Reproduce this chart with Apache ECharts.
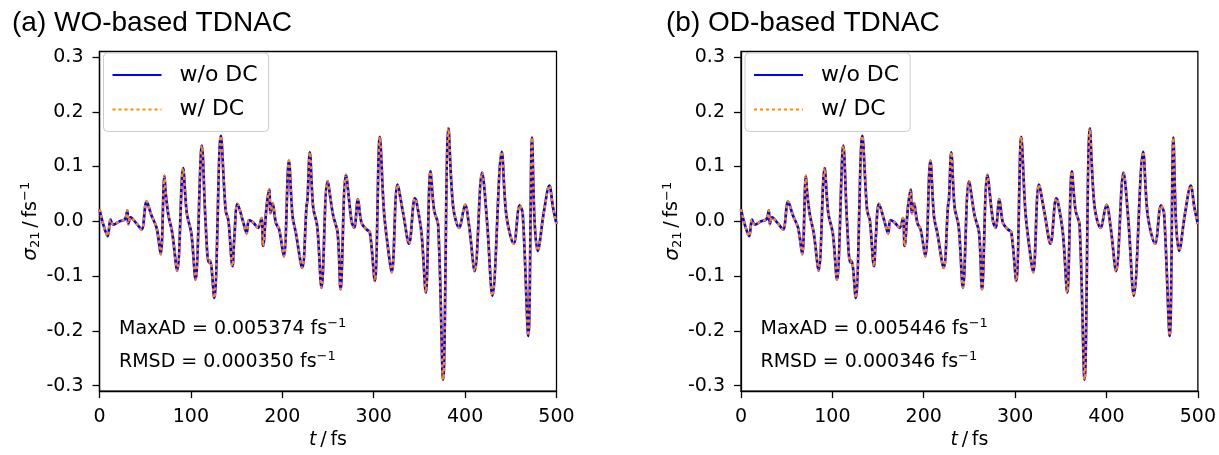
<!DOCTYPE html>
<html>
<head>
<meta charset="utf-8">
<script src="https://cdn.jsdelivr.net/npm/echarts@6/dist/echarts.min.js"></script>
<style>html,body{margin:0;padding:0;background:#fff;}#c{width:1219px;height:455px;}</style>
</head>
<body>
<div id="c"></div>
<script>
// time (fs) of sampled turning points
const timesA = [0,4,9,12,15,22,28,30.5,31.5,34,40,46,51.5,57,62.5,67,71,72.5,75.5,79.5,85,91.5,95.5,100.5,105,112,116,119.5,121,125.5,132.8,138,141,145.5,147.5,151,157,161,163.5,168,173.5,177.3,179,182.8,185.7,187.1,189.3,193,196.6,201.7,207.2,211.2,214.8,221.8,226.5,227.6,230.1,233.8,238.2,242.9,249.5,255.7,260.5,263.7,269.6,275.8,278.7,282.7,286.7,292.2,295.8,301.2,306.7,311.1,315,319.8,326,332.2,338.7,344.9,346.5,352.2,357,362.1,366.1,370.5,376,381.8,386.9,393.5,400,404.5,410.5,418.6,424,429.9,440.1,445.2,453.2,459.7,463,469.2,473.2,476,479.4,486,492.2,496.2,500];
// sigma_21 (fs^-1), panel (a) WO-based
const sigmaA_woDC = [0.022,-0.005,-0.027,0.003,-0.006,0.0,0.004,0.020,-0.005,0.007,-0.003,-0.015,0.036,0.010,-0.012,-0.060,0.083,0.050,0.010,-0.020,-0.090,0.097,0.015,-0.022,-0.106,0.138,0.0,-0.075,-0.072,-0.140,0.156,0.020,0.002,-0.082,-0.030,0.032,0.0,-0.022,0.002,-0.002,-0.012,0.006,-0.045,0.027,0.058,0.015,0.033,-0.003,-0.015,-0.064,0.111,0.009,-0.021,-0.085,0.027,0.040,0.126,0.025,-0.009,-0.121,0.073,0.010,-0.020,-0.124,0.085,0.0,-0.012,0.040,-0.003,-0.015,-0.020,-0.109,0.154,0.021,-0.040,-0.093,0.067,0.015,-0.041,0.042,0.038,-0.020,-0.130,0.091,0.020,-0.006,-0.289,0.170,0.027,-0.012,0.030,-0.010,-0.091,0.089,0.0,-0.136,0.127,0.010,-0.041,0.029,0.015,-0.209,0.153,0.0,-0.054,0.015,0.065,0.025,-0.005];
const sigmaA_wDC = sigmaA_woDC.slice();
// panel (b) OD-based (visually identical read)
const timesB = timesA.slice();
const sigmaB_woDC = sigmaA_woDC.slice();
const sigmaB_wDC = sigmaA_woDC.slice();

const xTickValues = [0,100,200,300,400,500];
const yTickValues = [-0.3,-0.2,-0.1,0.0,0.1,0.2,0.3];
const yTickLabels = ['-0.3','-0.2','-0.1','0.0','0.1','0.2','0.3'];
const titles = ['(a) WO-based TDNAC','(b) OD-based TDNAC'];
const seriesNames = ['w/o DC','w/ DC'];
const maxAD = ['0.005374','0.005446'];
const rmsd = ['0.000350','0.000346'];

const FONT = 'DejaVu Sans';
const pair = (ts, vs) => ts.map((t,i)=>[t, vs[i]]);

const gridLefts = [99.5, 741];
const PW = 457;

function xAxis(i){
  return {type:'value', gridIndex:i, min:0, max:500, interval:100,
    axisLine:{show:true, onZero:false, lineStyle:{color:'#000', width:1.3}},
    axisTick:{show:true, length:7, lineStyle:{color:'#000', width:1.3}},
    axisLabel:{color:'#000', fontSize:19, fontFamily:FONT, margin:16},
    splitLine:{show:false},
    name:'{it|t}{n|\u2009/\u2009fs}', nameLocation:'middle', nameGap:37,
    nameTextStyle:{color:'#000', fontSize:19, fontFamily:FONT,
      rich:{it:{fontStyle:'italic', fontSize:19, fontFamily:FONT, color:'#000'}, n:{fontSize:19, fontFamily:FONT, color:'#000'}}}
  };
}
function yAxis(i){
  return {type:'value', gridIndex:i, min:-0.31, max:0.31,
    axisLine:{show:true, onZero:false, lineStyle:{color:'#000', width:1.3}},
    axisTick:{show:true, length:7, lineStyle:{color:'#000', width:1.3}, customValues:yTickValues},
    axisLabel:{color:'#000', fontSize:19, fontFamily:FONT, margin:16, customValues:yTickValues,
      formatter:(v)=>{const k=yTickValues.findIndex(u=>Math.abs(u-v)<1e-6); return k>=0?yTickLabels[k]:'';}},
    splitLine:{show:false},
    name:'{it|σ}{sub|21}{n|\u2009/\u2009fs}{sup|−1}', nameLocation:'middle', nameGap:52, nameRotate:90,
    nameTextStyle:{color:'#000', fontSize:19, fontFamily:FONT,
      rich:{
        it:{fontStyle:'italic', fontSize:20, fontFamily:FONT, color:'#000'},
        n:{fontSize:19, fontFamily:FONT, color:'#000'},
        sub:{fontSize:13, fontFamily:FONT, color:'#000', padding:[10,0,0,0]},
        sup:{fontSize:13, fontFamily:FONT, color:'#000', padding:[0,0,10,0]}
      }}
  };
}
function annot(i){
  const x = gridLefts[i] + 19.5;
  const rich = {sup:{fontSize:13, fontFamily:FONT, fill:'#000', padding:[0,0,10,0]}};
  return [
    {type:'text', x:x, y:329, z:10, style:{text:'MaxAD = '+maxAD[i]+' fs{sup|−1}', rich:rich, fontSize:19, fontFamily:FONT, fill:'#000', verticalAlign:'middle'}},
    {type:'text', x:x, y:362, z:10, style:{text:'RMSD = '+rmsd[i]+' fs{sup|−1}', rich:rich, fontSize:19, fontFamily:FONT, fill:'#000', verticalAlign:'middle'}}
  ];
}
function lineSeries(name, i, data, isDC){
  return {type:'line', name:name, xAxisIndex:i, yAxisIndex:i, data:data, smooth:0.35,
    symbol:'none', showSymbol:false, animation:false, z: isDC?3:2,
    lineStyle: isDC ? {color:'#ff8c00', width:2.5, type:[3,3]} : {color:'#0000ff', width:2.7},
    itemStyle:{color: isDC ? '#ff8c00' : '#0000ff'}};
}
function legend(i){
  return {left:gridLefts[i]+4, top:53, orient:'vertical', data:seriesNames,
    itemWidth:49, itemHeight:20, itemGap:12.4,
    padding:[11,11,11,8], borderColor:'#cccccc', borderWidth:1, borderRadius:4,
    backgroundColor:'rgba(255,255,255,0.8)',
    itemStyle:{opacity:0},
    textStyle:{color:'#000', fontSize:22, fontFamily:FONT, padding:[0,0,0,13]}};
}

const chart = echarts.init(document.getElementById('c'), null, {renderer:'canvas'});
chart.setOption({
  animation:false,
  backgroundColor:'#fff',
  title: titles.map((t,i)=>({text:t, left: i===0?7:661, top:4,
    textStyle:{fontFamily:'Liberation Sans', fontSize:28, fontWeight:'normal', color:'#000'}})),
  grid: gridLefts.map(l=>({left:l, width:PW, top:51.5, height:340, show:true, borderColor:'#000', borderWidth:1.3, backgroundColor:'transparent'})),
  legend: [legend(0), legend(1)],
  xAxis: [xAxis(0), xAxis(1)],
  yAxis: [yAxis(0), yAxis(1)],
  series: [
    lineSeries(seriesNames[0], 0, pair(timesA, sigmaA_woDC), false),
    lineSeries(seriesNames[1], 0, pair(timesA, sigmaA_wDC), true),
    lineSeries(seriesNames[0], 1, pair(timesB, sigmaB_woDC), false),
    lineSeries(seriesNames[1], 1, pair(timesB, sigmaB_wDC), true)
  ],
  graphic: annot(0).concat(annot(1))
});
</script>
</body>
</html>
